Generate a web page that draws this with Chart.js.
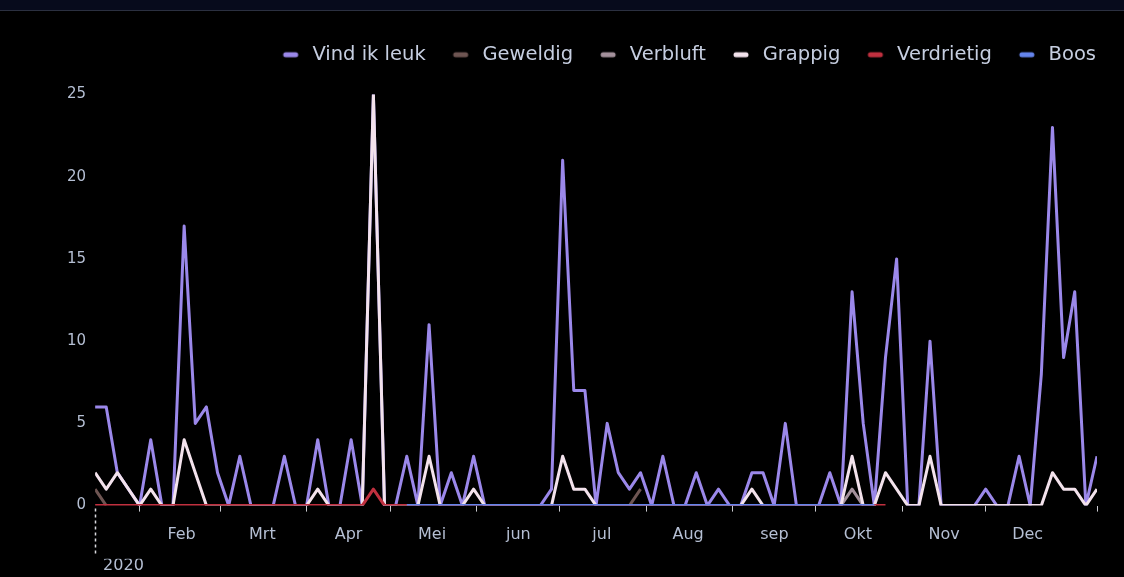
<!DOCTYPE html>
<html>
<head>
<meta charset="utf-8">
<script src="https://cdn.jsdelivr.net/npm/chart.js@4/dist/chart.umd.min.js"></script>
<style>
  html, body { margin: 0; padding: 0; background: #000; overflow: hidden; }
  .topbar { position: absolute; top: 0; left: 0; width: 1124px; height: 10px; background: #070b1c; border-bottom: 1px solid #2b3040; }
  .wrap { position: absolute; top: 0; left: 0; width: 1124px; height: 577px; }
</style>
</head>
<body>
<div class="topbar"></div>
<div class="wrap"><canvas id="reactiesChart"></canvas></div>
<script>
// dag van het jaar (0 = 1 jan 2020), één punt per 4 dagen
const days = [15, 19, 23, 27, 31, 35, 39, 43, 47, 51, 55, 59, 63, 67, 71, 75, 79, 83, 87, 91,
  95, 99, 103, 107, 111, 115, 119, 123, 127, 131, 135, 139, 143, 147, 151, 155, 159, 163, 167, 171,
  175, 179, 183, 187, 191, 195, 199, 203, 207, 211, 215, 219, 223, 227, 231, 235, 239, 243, 247, 251,
  255, 259, 263, 267, 271, 275, 279, 283, 287, 291, 295, 299, 303, 307, 311, 315, 319, 323, 327, 331,
  335, 339, 343, 347, 351, 355, 359, 363, 367, 371, 375];

const monthStarts = [31, 60, 91, 121, 152, 182, 213, 244, 274, 305, 335];
const monthNames = ['Feb', 'Mrt', 'Apr', 'Mei', 'jun', 'jul', 'Aug', 'sep', 'Okt', 'Nov', 'Dec'];
const yearLabel = '2020';
const yTicks = [0, 5, 10, 15, 20, 25];

const vindIkLeuk = [6, 6, 2, 1, 0, 4, 0, 0, 17, 5,
  6, 2, 0, 3, 0, 0, 0, 3, 0, 0,
  4, 0, 0, 4, 0, 25, 0, 0, 3, 0,
  11, 0, 2, 0, 3, 0, 0, 0, 0, 0,
  0, 1, 21, 7, 7, 0, 5, 2, 1, 2,
  0, 3, 0, 0, 2, 0, 1, 0, 0, 2,
  2, 0, 5, 0, 0, 0, 2, 0, 13, 5,
  0, 9, 15, 0, 0, 10, 0, 0, 0, 0,
  1, 0, 0, 3, 0, 8, 23, 9, 13, 0,
  3];

const N = null;
const geweldig = [1, 0, N, N, N, N, N, N, N, N,
  N, N, N, N, N, N, N, N, N, N,
  N, N, N, N, N, N, N, N, N, N,
  N, N, N, N, N, N, N, N, N, N,
  N, N, N, N, N, N, N, N, 0, 1,
  N, N, N, N, N, N, N, N, N, N,
  N, N, N, N, N, N, N, N, N, N,
  N, N, N, N, N, N, N, N, N, N,
  N, N, N, N, N, N, N, N, N, N,
  N];

const verbluft = [N, N, N, N, N, N, N, N, N, N,
  N, N, N, N, N, N, N, N, N, N,
  N, N, N, N, N, N, N, N, N, N,
  N, N, N, N, N, N, N, N, N, N,
  N, N, N, N, N, N, N, N, N, N,
  N, N, N, N, N, N, N, N, N, N,
  N, N, N, N, N, N, N, 0, 1, 0,
  N, N, N, N, N, N, N, N, N, N,
  N, N, N, N, N, N, N, N, N, N,
  N];

const grappig = [2, 1, 2, 1, 0, 1, 0, 0, 4, 2,
  0, 0, 0, 0, 0, 0, 0, 0, 0, 0,
  1, 0, 0, 0, 0, 25, 0, 0, 0, 0,
  3, 0, 0, 0, 1, 0, 0, 0, 0, 0,
  0, 0, 3, 1, 1, 0, 0, 0, 0, 0,
  0, 0, 0, 0, 0, 0, 0, 0, 0, 1,
  0, 0, 0, 0, 0, 0, 0, 0, 3, 0,
  0, 2, 1, 0, 0, 3, 0, 0, 0, 0,
  0, 0, 0, 0, 0, 0, 2, 1, 1, 0,
  1];

const verdrietig = [0, 0, 0, 0, 0, 0, 0, 0, 0, 0,
  0, 0, 0, 0, 0, 0, 0, 0, 0, 0,
  0, 0, 0, 0, 0, 1, 0, 0, 0, 0,
  0, 0, 0, 0, 0, 0, 0, 0, 0, 0,
  0, 0, 0, 0, 0, 0, 0, 0, 0, 0,
  0, 0, 0, 0, 0, 0, 0, 0, 0, 0,
  0, 0, 0, 0, 0, 0, 0, 0, 0, 0,
  0, 0, N, N, N, N, N, N, N, N,
  N, N, N, N, N, N, N, N, N, N,
  N];

const boos = [N, N, N, N, N, N, N, N, N, N,
  N, N, N, N, N, N, N, N, N, N,
  N, N, N, N, N, N, N, N, 0, 0,
  0, 0, 0, 0, 0, 0, 0, 0, 0, 0,
  0, 0, 0, 0, 0, 0, 0, 0, 0, 0,
  0, 0, 0, 0, 0, 0, 0, 0, 0, 0,
  0, 0, 0, 0, 0, 0, 0, 0, 0, 0,
  0, N, N, N, N, N, N, N, N, N,
  N, N, N, N, N, N, N, N, N, N,
  N];

const seriesNames = ['Vind ik leuk', 'Geweldig', 'Verbluft', 'Grappig', 'Verdrietig', 'Boos'];
const seriesData = [vindIkLeuk, geweldig, verbluft, grappig, verdrietig, boos];
const seriesColors = ['#9b88ea', '#6e5552', '#a4919c', '#f3e2ec', '#c0303f', '#6484ec'];

// kort lijntje als legendasymbool
function swatch(color) {
    const c = document.createElement('canvas');
    c.width = 29;
    c.height = 8;
    const g = c.getContext('2d');
    g.strokeStyle = color;
    g.lineWidth = 5;
    g.lineCap = 'round';
    g.beginPath();
    g.moveTo(12, 4);
    g.lineTo(22, 4);
    g.stroke();
    return c;
}

// extra ruimte onder de legenda
const legendGap = {
    id: 'legendGap',
    beforeInit(chart) {
        const fit = chart.legend.fit;
        chart.legend.fit = function() {
            fit.bind(chart.legend)();
            this.height += 20;
        };
    }
};

// gestippelde lijn bij het begin van het jaar
const yearMarker = {
    id: 'yearMarker',
    afterDraw(chart) {
        const ctx = chart.ctx;
        const x = Math.round(chart.scales.x.getPixelForValue(days[0])) + 0.5;
        ctx.save();
        ctx.strokeStyle = '#d9d9de';
        ctx.lineWidth = 1.5;
        ctx.setLineDash([3, 3]);
        ctx.beginPath();
        ctx.moveTo(x, chart.chartArea.bottom + 3);
        ctx.lineTo(x, chart.chartArea.bottom + 49);
        ctx.stroke();
        ctx.restore();
    }
};

Chart.defaults.font.family = "'DejaVu Sans', sans-serif";
Chart.defaults.color = '#b5bfd3';

const ctx = document.getElementById('reactiesChart').getContext('2d');
const reactiesChart = new Chart(ctx, {
    type: 'line',
    data: {
        labels: days,
        datasets: seriesNames.map((name, i) => ({
            label: name,
            data: seriesData[i],
            borderColor: seriesColors[i],
            backgroundColor: seriesColors[i],
            borderWidth: 3,
            borderJoinStyle: 'round',
            pointRadius: 0,
            pointHoverRadius: 0,
            tension: 0,
            spanGaps: false,
            order: seriesNames.length - 1 - i
        }))
    },
    options: {
        responsive: true,
        maintainAspectRatio: false,
        animation: false,
        layout: {
            padding: { top: 27, left: 58, right: 10, bottom: 5 }
        },
        scales: {
            x: {
                type: 'linear',
                min: days[0],
                max: days[days.length - 1],
                weight: 0,
                border: { display: false },
                grid: {
                    display: true,
                    drawOnChartArea: false,
                    drawTicks: true,
                    tickLength: 6,
                    tickWidth: 1,
                    tickColor: (c) => c.index === 0 ? 'rgba(0,0,0,0)' : '#c9c9cf'
                },
                afterBuildTicks: (scale) => {
                    scale.ticks = [days[0], ...monthStarts, days[days.length - 1]].map(v => ({ value: v }));
                },
                ticks: {
                    autoSkip: false,
                    maxRotation: 0,
                    padding: 14,
                    labelOffset: 42,
                    font: { size: 16 },
                    callback: (value) => {
                        const k = monthStarts.indexOf(value);
                        return k >= 0 ? monthNames[k] : '';
                    }
                }
            },
            xYear: {
                type: 'linear',
                position: 'bottom',
                min: days[0],
                max: days[days.length - 1],
                weight: 1,
                border: { display: false },
                grid: { display: false, drawTicks: false },
                afterBuildTicks: (scale) => {
                    scale.ticks = [{ value: days[0] }];
                },
                ticks: {
                    autoSkip: false,
                    maxRotation: 0,
                    align: 'start',
                    padding: -3,
                    labelOffset: 8,
                    font: { size: 16 },
                    callback: () => yearLabel
                }
            },
            y: {
                min: 0,
                max: 25,
                border: { display: false },
                grid: { display: false, drawTicks: false },
                afterBuildTicks: (scale) => {
                    scale.ticks = yTicks.map(v => ({ value: v }));
                },
                ticks: {
                    padding: 9,
                    font: { size: 15 }
                }
            },
            yR: {
                position: 'right',
                display: true,
                border: { display: false },
                grid: { display: false, drawTicks: false },
                ticks: { display: false },
                afterFit: (scale) => { scale.width = 17; }
            }
        },
        plugins: {
            legend: {
                position: 'top',
                align: 'end',
                labels: {
                    color: '#c6cee0',
                    font: { size: 19.5 },
                    padding: 18,
                    usePointStyle: true,
                    pointStyleWidth: 29,
                    sort: (a, b) => a.datasetIndex - b.datasetIndex,
                    generateLabels: (chart) => {
                        const items = Chart.defaults.plugins.legend.labels.generateLabels(chart);
                        items.forEach(item => {
                            item.pointStyle = swatch(seriesColors[item.datasetIndex]);
                        });
                        return items;
                    }
                }
            },
            tooltip: { enabled: false }
        }
    },
    plugins: [legendGap, yearMarker]
});
</script>
</body>
</html>
